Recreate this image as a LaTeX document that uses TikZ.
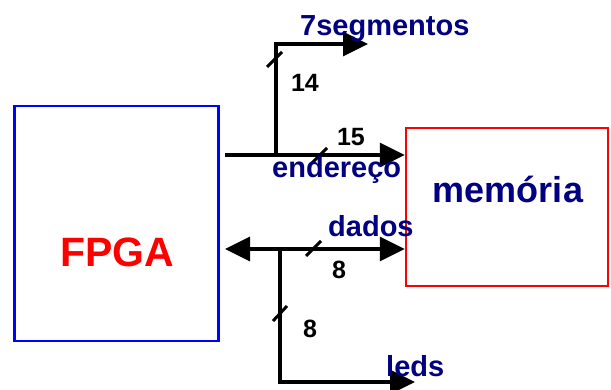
\documentclass[tikz,border=0pt]{standalone}
\usepackage{fontspec}
\setmainfont{Liberation Sans}
\usetikzlibrary{arrows.meta}
\definecolor{navy}{RGB}{0,0,128}
\begin{document}
\begin{tikzpicture}[x=1pt,y=-1pt,
  block/.style={draw,line width=2.5pt,inner sep=0pt},
  bus/.style={line width=3.5pt,-{Triangle[length=25pt,width=24pt]}},
  biBus/.style={line width=3.5pt,{Triangle[length=25pt,width=24pt]}-{Triangle[length=25pt,width=24pt]}},
  tick/.style={line width=3pt},
  sig/.style={font=\bfseries\fontsize{29}{29}\selectfont,text=navy,inner sep=0pt,anchor=base west},
  busWidth/.style={font=\bfseries\fontsize{25}{25}\selectfont,inner sep=0pt}]
\useasboundingbox (0,0) rectangle (611,390);

% blocks
\node[block,draw=blue,minimum width=204pt,minimum height=235pt] (fpga) at (116.5,223.5) {};
\node[font=\bfseries\fontsize{41}{41}\selectfont,text=red,inner sep=0pt,anchor=base] (fpgaName) at (117,267) {FPGA};
\node[block,draw=red,minimum width=202pt,minimum height=158pt] (mem) at (507,207) {};
\node[font=\bfseries\fontsize{36}{36}\selectfont,text=navy,inner sep=0pt,anchor=base] (memName) at (508,203) {memória};

% address bus with branch to the display
\coordinate (addrStart) at (225,155);
\coordinate (segFork) at (276,155);
\coordinate (segCorner) at (276,44);
\coordinate (segEnd) at (368,44);
\draw[bus] (addrStart) -- (mem.west |- addrStart);
\draw[bus] (segFork) -- (segCorner) -- (segEnd);

% data bus with branch to the leds
\coordinate (dataStart) at (225,249);
\coordinate (ledFork) at (280,249);
\coordinate (ledCorner) at (280,382);
\coordinate (ledEnd) at (415,382);
\draw[biBus] (dataStart) -- (mem.west |- dataStart);
\draw[bus] (ledFork) -- (ledCorner) -- (ledEnd);

% bus width marks
\draw[tick] (267,67) -- (282,52);
\draw[tick] (312,163) -- (327,148);
\draw[tick] (306,256) -- (321,241);
\draw[tick] (273,321) -- (287,306);

% labels
\node[sig] (segLabel) at (300,36) {7segmentos};
\node[busWidth] (segWidth) at (305,83) {14};
\node[busWidth] (addrWidth) at (351,137) {15};
\node[sig] (addrLabel) at (272,178) {endereço};
\node[sig] (dataLabel) at (328,237) {dados};
\node[busWidth] (dataWidth) at (339,270) {8};
\node[busWidth] (ledWidth) at (310,329) {8};
\node[sig] (ledLabel) at (386,377) {leds};
\end{tikzpicture}
\end{document}
